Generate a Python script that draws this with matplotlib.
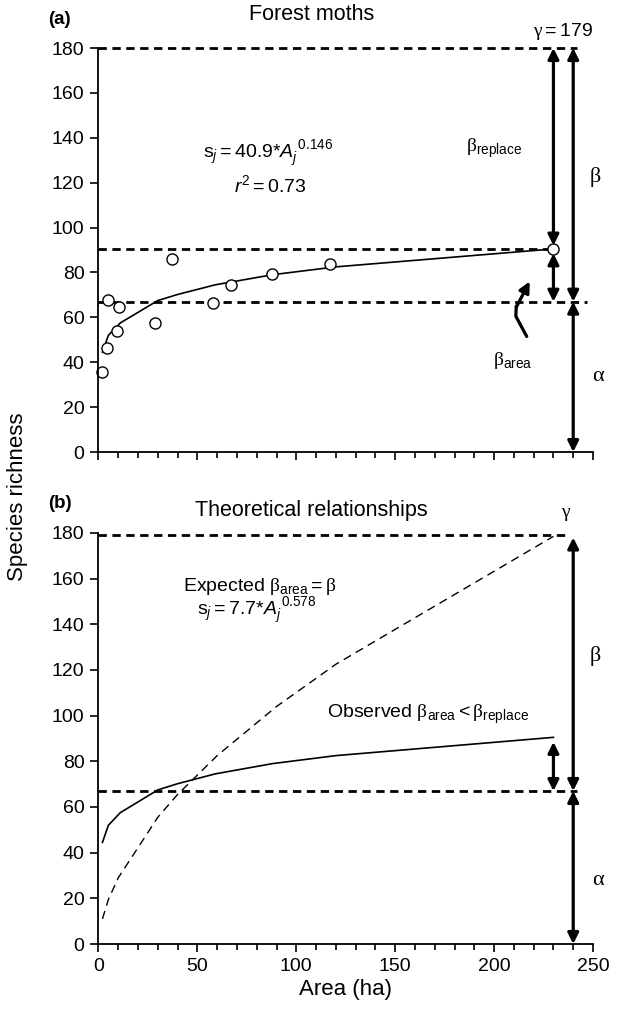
import numpy as np
import matplotlib.pyplot as plt
from matplotlib.ticker import MultipleLocator

plt.rcParams['font.family'] = ['Liberation Sans', 'DejaVu Sans']
plt.rcParams['mathtext.fontset'] = 'custom'
plt.rcParams['mathtext.rm'] = 'Liberation Sans'
plt.rcParams['mathtext.it'] = 'Liberation Sans:italic'
plt.rcParams['mathtext.sf'] = 'Liberation Serif'

# Observed moth richness per patch
area_obs = [1.6, 4.1, 4.6, 9.2, 10.5, 28.6, 37.3, 57.8, 67.2, 87.7, 117.2, 230]
rich_obs = [35.7, 46.5, 67.6, 54.0, 64.4, 57.3, 86.2, 66.2, 74.6, 79.2, 83.6, 90.5]

# Fitted species-area line (vertices)
fit_area = [2, 5, 11, 30, 40, 59, 88, 120, 230]
fit_rich = [44.5, 52, 57.5, 67.5, 70.2, 74.5, 79, 82.5, 90.5]

# Expected curve if beta_area = beta
exp_area = [2, 5, 10, 30, 40, 60, 90, 120, 230]
exp_rich = [11, 19.5, 29, 55.5, 65.5, 82.5, 104, 122.5, 178.5]

alpha_val = 67
gamma_val = 179
local_max = 90.5

fig = plt.figure(figsize=(6.21, 10.09), dpi=100)
ax1 = fig.add_axes([0.1586, 0.552, 0.7963, 0.4004])
ax2 = fig.add_axes([0.1586, 0.0644, 0.7963, 0.4074])

for ax in (ax1, ax2):
    ax.set_xlim(0, 250)
    ax.set_ylim(0, 180)
    ax.spines['top'].set_visible(False)
    ax.spines['right'].set_visible(False)
    ax.spines['left'].set_linewidth(1.3)
    ax.spines['bottom'].set_linewidth(1.3)
    ax.xaxis.set_major_locator(MultipleLocator(50))
    ax.xaxis.set_minor_locator(MultipleLocator(10))
    ax.yaxis.set_major_locator(MultipleLocator(20))
    ax.tick_params(which='major', length=6, width=1.2, labelsize=14, pad=4)
    ax.tick_params(which='minor', length=4, width=1.2)

ax1.tick_params(axis='x', labelbottom=False)

arrow = dict(arrowstyle='<|-|>', lw=2.3, color='k', mutation_scale=16,
             shrinkA=0, shrinkB=0)

def darrow(ax, x, y0, y1):
    ax.annotate('', xy=(x, y1), xytext=(x, y0), arrowprops=arrow,
                annotation_clip=False)

# ---- (a) Forest moths
ax1.plot([0, 242], [gamma_val + 1, gamma_val + 1], 'k--', lw=2, dashes=(3, 2), clip_on=False)
ax1.plot([0, 230], [local_max, local_max], 'k--', lw=2, dashes=(3, 2))
ax1.plot([0, 247], [alpha_val, alpha_val], 'k--', lw=2, dashes=(3, 2), clip_on=False)
ax1.plot(fit_area, fit_rich, 'k-', lw=1.2)
ax1.plot(area_obs, rich_obs, 'o', mfc='white', mec='k', ms=8, mew=1.0, clip_on=False)

darrow(ax1, 230, local_max + 1.5, gamma_val + 1)
darrow(ax1, 230, alpha_val, local_max - 2)
darrow(ax1, 240, alpha_val, gamma_val + 1)
darrow(ax1, 240, 0, alpha_val)

# curved pointer to beta_area
ax1.plot([216.5, 211, 211.2], [51.5, 60.5, 65], 'k-', lw=2.3, solid_capstyle='round')
ax1.annotate('', xy=(218, 76), xytext=(211.2, 64.5),
             arrowprops=dict(arrowstyle='-|>', lw=2.3, color='k', mutation_scale=16,
                             shrinkA=0, shrinkB=0))

ax1.text(86, 133, r'$\mathrm{s}_{j}{=}40.9{*}A_{j}^{\ 0.146}$', ha='center', va='center', fontsize=14)
ax1.text(87, 119, r'$r^{2}{=}0.73$', ha='center', va='center', fontsize=14)
ax1.text(200, 135.5, r'$\mathsf{\beta}_{\mathrm{replace}}$', ha='center', va='center', fontsize=14)
ax1.text(251, 122.5, 'β', family='Liberation Serif', ha='center', va='center', fontsize=16, clip_on=False)
ax1.text(209.5, 41, r'$\mathsf{\beta}_{\mathrm{area}}$', ha='center', va='center', fontsize=14)
ax1.text(252.5, 33.5, 'α', family='Liberation Serif', ha='center', va='center', fontsize=16, clip_on=False)
ax1.text(235, 187.5, r'$\mathsf{\gamma}{=}179$', ha='center', va='center', fontsize=14, clip_on=False)
ax1.set_title('Forest moths', fontsize=15.5, pad=20, x=0.43)

# ---- (b) Theoretical relationships
ax2.plot([0, 238], [gamma_val, gamma_val], 'k--', lw=2, dashes=(3, 2), clip_on=False)
ax2.plot([0, 242], [alpha_val, alpha_val], 'k--', lw=2, dashes=(3, 2), clip_on=False)
ax2.plot(fit_area, fit_rich, 'k-', lw=1.2)
ax2.plot(exp_area, exp_rich, 'k--', lw=1.0, dashes=(6, 4))

darrow(ax2, 230, alpha_val, local_max - 2)
darrow(ax2, 240, alpha_val, gamma_val - 1)
darrow(ax2, 240, 0, alpha_val)

ax2.text(42.5, 156.5, r'Expected $\mathsf{\beta}_{\mathrm{area}}{=}\mathsf{\beta}$', ha='left', va='center', fontsize=14)
ax2.text(50, 146, r'$\mathrm{s}_{j}{=}7.7{*}A_{j}^{\ 0.578}$', ha='left', va='center', fontsize=14)
ax2.text(115.5, 100.5, r'Observed $\mathsf{\beta}_{\mathrm{area}}{<}\mathsf{\beta}_{\mathrm{replace}}$',
         ha='left', va='center', fontsize=14)
ax2.text(251, 126, 'β', family='Liberation Serif', ha='center', va='center', fontsize=16, clip_on=False)
ax2.text(252.5, 28, 'α', family='Liberation Serif', ha='center', va='center', fontsize=16, clip_on=False)
ax2.text(236, 189, 'γ', family='Liberation Serif', ha='center', va='center', fontsize=14, clip_on=False)
ax2.set_title('Theoretical relationships', fontsize=15.5, pad=12, x=0.43)
ax2.set_xlabel('Area (ha)', fontsize=16, labelpad=3)

fig.text(48 / 621, 1 - 20 / 1009, '(a)', fontweight='bold', fontsize=13.5, ha='left', va='center')
fig.text(48 / 621, 1 - 503 / 1009, '(b)', fontweight='bold', fontsize=13.5, ha='left', va='center')
fig.text(18 / 621, 1 - 497 / 1009, 'Species richness', rotation=90, fontsize=16, ha='center', va='center')

fig.savefig('out.png', dpi=100)
